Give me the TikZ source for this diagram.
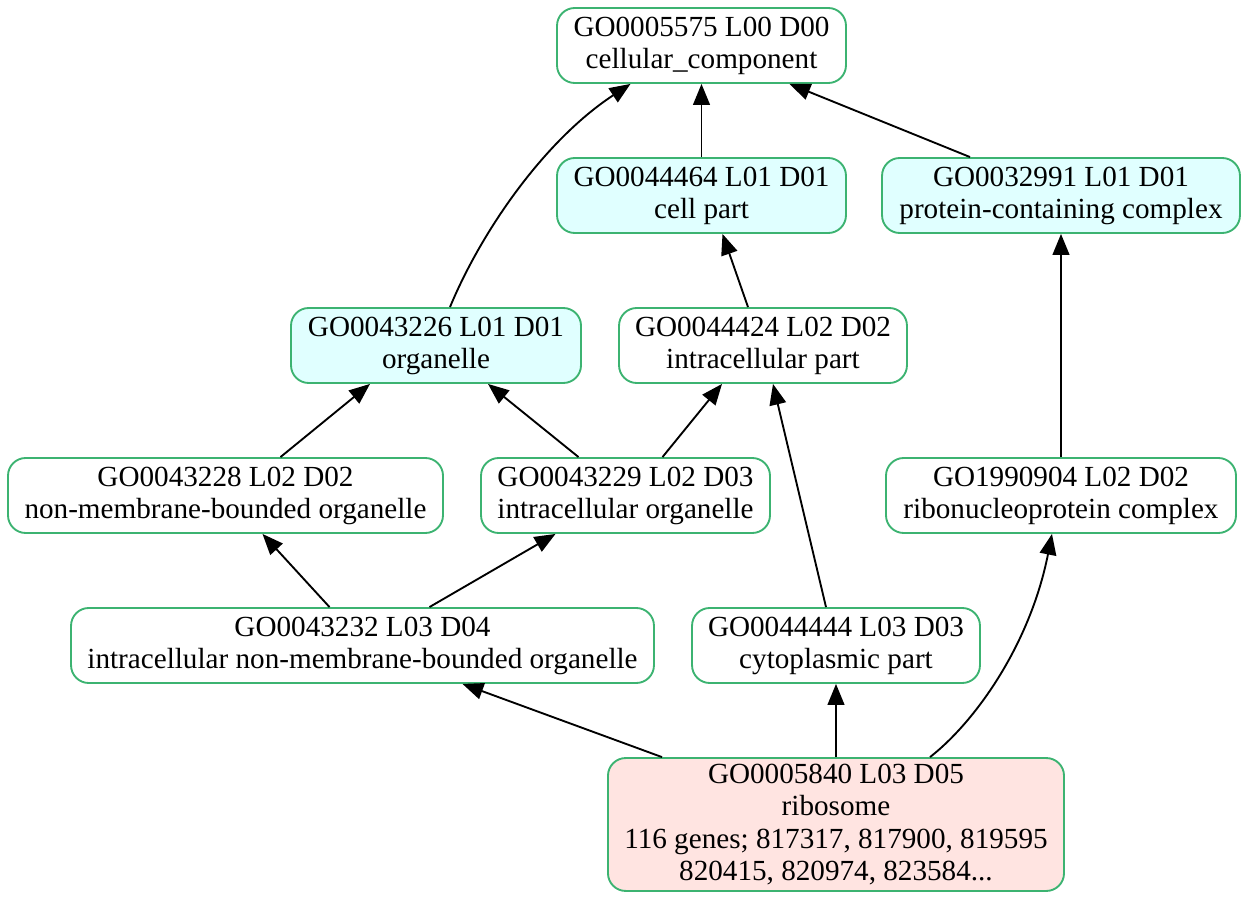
\documentclass[tikz,border=0pt]{standalone}
\usepackage{fontspec}
\setmainfont{Liberation Serif}
\usetikzlibrary{arrows.meta,calc}
\definecolor{termgreen}{HTML}{3CB371}
\definecolor{termcyan}{HTML}{E0FFFF}
\definecolor{termpink}{HTML}{FFE4E1}
\tikzstyle{line} = [draw, -{Triangle[length=10pt, width=8pt]}, line width=0.9pt]
\tikzstyle{goterm} = [draw=termgreen, line width=0.9pt, rounded corners=8.5pt, align=center, inner sep=0pt, minimum height=36pt, font=\fontsize{14}{15.4}\selectfont]
\begin{document}
\begin{tikzpicture}[x=0.48pt, y=-0.48pt]
        \useasboundingbox (0,0) rectangle (1248,900);

        % level 0
        \node[goterm, minimum width=138.7pt] (n1) at (701.5,45.5) {GO0005575 L00 D00\\ cellular\_component};

        % level 1
        \node[goterm, fill=termcyan, minimum width=138.7pt] (n2) at (701.5,195.5) {GO0044464 L01 D01\\ cell part};
        \node[goterm, fill=termcyan, minimum width=171.8pt] (n3) at (1061,195.5) {GO0032991 L01 D01\\ protein-containing complex};

        % level 2
        \node[goterm, fill=termcyan, minimum width=139.2pt] (n4) at (436,345.5) {GO0043226 L01 D01\\ organelle};
        \node[goterm, minimum width=138.2pt] (n5) at (763,345.5) {GO0044424 L02 D02\\ intracellular part};

        % level 3
        \node[goterm, minimum width=208.8pt] (n6) at (225.5,495.5) {GO0043228 L02 D02\\ non-membrane-bounded organelle};
        \node[goterm, minimum width=138.7pt] (n7) at (625.5,495.5) {GO0043229 L02 D03\\ intracellular organelle};
        \node[goterm, minimum width=168pt] (n8) at (1061,495.5) {GO1990904 L02 D02\\ ribonucleoprotein complex};

        % level 4
        \node[goterm, minimum width=279.8pt] (n9) at (362.5,645.5) {GO0043232 L03 D04\\ intracellular non-membrane-bounded organelle};
        \node[goterm, minimum width=138.2pt] (n10) at (836,645.5) {GO0044444 L03 D03\\ cytoplasmic part};

        % study term
        \node[goterm, fill=termpink, minimum width=218.9pt, minimum height=63.8pt] (n11) at (836,824.5) {GO0005840 L03 D05\\ ribosome\\ 116 genes; 817317, 817900, 819595\\ 820415, 820974, 823584...};

        % edges
        \draw[line] ($(n4.north)+(14,0)$) .. controls (482,230) and (545,140) .. ($(n1.south)+(-71,0)$);
        \draw[line] (n2.north) -- (n1.south);
        \draw[line] ($(n3.north)+(-91,0)$) -- ($(n1.south)+(88,0)$);
        \draw[line] ($(n5.north)+(-15,0)$) -- ($(n2.south)+(21,0)$);
        \draw[line] ($(n6.north)+(55,0)$) -- ($(n4.south)+(-66,0)$);
        \draw[line] ($(n7.north)+(-47,0)$) -- ($(n4.south)+(52,0)$);
        \draw[line] ($(n7.north)+(37,0)$) -- ($(n5.south)+(-41,0)$);
        \draw[line] (n8.north) -- (n3.south);
        \draw[line] ($(n9.north)+(-33,0)$) -- ($(n6.south)+(37,0)$);
        \draw[line] ($(n9.north)+(67,0)$) -- ($(n7.south)+(-70,0)$);
        \draw[line] ($(n10.north)+(-10,0)$) -- ($(n5.south)+(10,0)$);
        \draw[line] ($(n11.north)+(-174,0)$) -- ($(n9.south)+(100,0)$);
        \draw[line] (n11.north) -- (n10.south);
        \draw[line] ($(n11.north)+(94,0)$) .. controls (975,722) and (1030,645) .. ($(n8.south)+(-9,0)$);
\end{tikzpicture}
\end{document}
